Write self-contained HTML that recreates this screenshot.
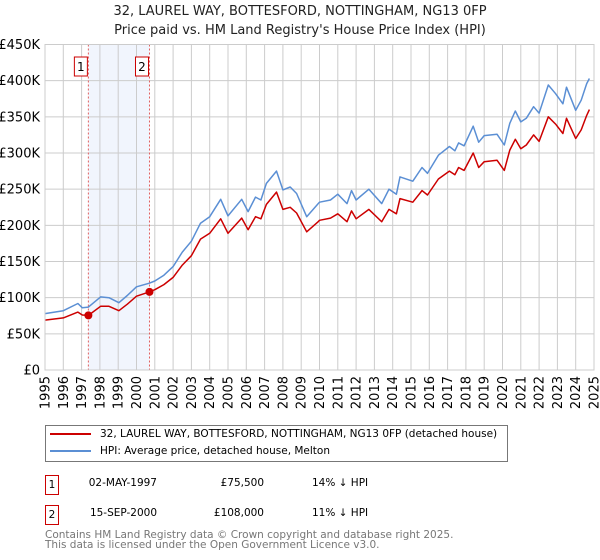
<!DOCTYPE html>
<html><head><meta charset="utf-8"><style>
body{margin:0;background:#fff;font-family:"DejaVu Sans","Liberation Sans",sans-serif;}
svg text{font-family:"DejaVu Sans","Liberation Sans",sans-serif;}
.n{white-space:nowrap}
</style></head><body>
<svg id="chart" width="600" height="560" xmlns="http://www.w3.org/2000/svg" style="position:absolute;left:0;top:0">
<g id="g"></g>
</svg>
<script>
const hpiYears=[1995.0,1996.0,1996.8,1997.04,1997.37,1998.04,1998.5,1999.04,1999.5,2000.0,2000.7,2001.0,2001.5,2002.0,2002.5,2003.0,2003.5,2004.0,2004.6,2005.0,2005.75,2006.1,2006.5,2006.8,2007.1,2007.65,2008.0,2008.4,2008.75,2009.3,2009.93,2010.0,2010.6,2011.0,2011.5,2011.75,2012.0,2012.7,2013.4,2013.8,2014.2,2014.4,2015.1,2015.6,2015.9,2016.5,2017.1,2017.4,2017.6,2017.9,2018.4,2018.7,2019.0,2019.7,2020.1,2020.4,2020.7,2021.0,2021.3,2021.7,2022.0,2022.5,2022.9,2023.3,2023.5,2024.0,2024.3,2024.6,2024.75];
const hpiValues=[78000,82000,92000,86000,87000,101000,100000,93000,103000,115000,120000,123000,131000,143000,163000,178000,203000,212000,236000,213000,236000,219000,239000,235000,258000,275000,249000,253000,244000,212000,230000,232000,235000,243000,230000,248000,235000,250000,230000,250000,243000,267000,261000,280000,272000,297000,309000,303000,314000,310000,337000,315000,324000,326000,311000,341000,358000,343000,348000,364000,355000,394000,382000,368000,391000,359000,373000,396000,403000];
const priceValues=[69000,72000,80000,76000,75500,88000,88000,82000,91000,102000,108000,111000,118000,128000,145000,158000,181000,189000,209000,189000,210000,194000,212000,209000,229000,246000,222000,225000,217000,191000,205000,207000,210000,216000,205000,220000,209000,222000,205000,222000,216000,237000,232000,248000,242000,264000,275000,270000,280000,276000,300000,280000,288000,290000,276000,304000,319000,306000,311000,325000,316000,350000,340000,327000,348000,320000,332000,352000,360000];
const saleYears=[1997.37,2000.71];
const salePrices=[75500,108000];
const saleLabels=["1","2"];
const yTicks=[0,50000,100000,150000,200000,250000,300000,350000,400000,450000];
const yTickLabels=["£0","£50K","£100K","£150K","£200K","£250K","£300K","£350K","£400K","£450K"];
const xTicks=[1995,1996,1997,1998,1999,2000,2001,2002,2003,2004,2005,2006,2007,2008,2009,2010,2011,2012,2013,2014,2015,2016,2017,2018,2019,2020,2021,2022,2023,2024,2025];

const X0=45,X1=594,Y0=370,Y1=44.5;
const xs=y=>X0+(y-1995)/30*(X1-X0);
const ys=v=>Y0-v/450000*(Y0-Y1);
const NS="http://www.w3.org/2000/svg";
const g=document.getElementById('g');
function mk(t,a,txt){const e=document.createElementNS(NS,t);for(const k in a)e.setAttribute(k,a[k]);if(txt!==undefined)e.textContent=txt;g.appendChild(e);return e;}

let e=mk('rect',{x:xs(saleYears[0]),y:Y1,width:xs(saleYears[1])-xs(saleYears[0]),height:Y0-Y1,fill:'#eef3fc',opacity:0.8});

yTicks.forEach((v,i)=>{
 let l=mk('line',{x1:X0,x2:X1,y1:ys(v),y2:ys(v),stroke:'#cccccc','stroke-width':1});
 
 let t=mk('text',{x:X0-5,y:ys(v)+4.5,'text-anchor':'end','font-size':13,fill:'#000'},yTickLabels[i]);
 
});
xTicks.forEach(yr=>{
 let l=mk('line',{x1:xs(yr),x2:xs(yr),y1:Y1,y2:Y0,stroke:'#cccccc','stroke-width':1});
 
 let t=mk('text',{x:0,y:0,'font-size':13,fill:'#000','text-anchor':'end',transform:`translate(${xs(yr)+4.5},${Y0+6}) rotate(-90)`},String(yr));
 
});
saleYears.forEach((yr,i)=>{
 let l=mk('line',{x1:xs(yr),x2:xs(yr),y1:Y1,y2:Y0,stroke:'#e06060','stroke-width':1,'stroke-dasharray':'2,2'});
 
 let r=mk('rect',{x:xs(yr)-14,y:57,width:13,height:19,fill:'#fff',stroke:'#cc0000','stroke-width':1});
 
 let t=mk('text',{x:xs(yr)-7.5,y:71,'text-anchor':'middle','font-size':12,fill:'#000'},saleLabels[i]);
 
});
function pts(vals){return hpiYears.map((y,i)=>xs(y).toFixed(1)+','+ys(vals[i]).toFixed(1)).join(' ');}
let hp=mk('polyline',{points:pts(hpiValues),fill:'none',stroke:'#5b8fd4','stroke-width':1.5,'stroke-linejoin':'round'});

let pp=mk('polyline',{points:pts(priceValues),fill:'none',stroke:'#cc0000','stroke-width':1.5,'stroke-linejoin':'round'});

saleYears.forEach((yr,i)=>{
 let c=mk('circle',{cx:xs(yr),cy:ys(salePrices[i]),r:4,fill:'#cc0000'});
 
});
let b=mk('rect',{x:X0,y:Y1,width:X1-X0,height:Y0-Y1,fill:'none',stroke:'#cccccc','stroke-width':1});

</script>
<div style="position:absolute;left:0;top:2px;width:600px;text-align:center;font-size:13px;line-height:19px;color:#222">32, LAUREL WAY, BOTTESFORD, NOTTINGHAM, NG13 0FP<br>Price paid vs. HM Land Registry's House Price Index (HPI)</div>
<div style="position:absolute;left:45px;top:425px;width:463px;height:37px;border:1px solid #777;box-sizing:border-box;font-size:10.5px;color:#000">
 <div class="n" style="position:absolute;left:4px;top:2px"><span style="display:inline-block;width:41px;height:2px;background:#cc0000;vertical-align:middle;margin-right:9px"></span>32, LAUREL WAY, BOTTESFORD, NOTTINGHAM, NG13 0FP (detached house)</div>
 <div class="n" style="position:absolute;left:4px;top:19px"><span style="display:inline-block;width:41px;height:2px;background:#5b8fd4;vertical-align:middle;margin-right:9px"></span>HPI: Average price, detached house, Melton</div>
</div>
<div style="position:absolute;left:0;top:0;font-size:10.5px;color:#000">
 <div style="position:absolute;left:45px;top:475px;width:14px;height:20px;border:1px solid #cc0000;box-sizing:border-box;text-align:center;line-height:18px">1</div>
 <div class="n" style="position:absolute;left:67px;top:477px;width:90px;text-align:right">02-MAY-1997</div>
 <div class="n" style="position:absolute;left:184px;top:477px;width:80px;text-align:right">£75,500</div>
 <div class="n" style="position:absolute;left:312px;top:477px">14% ↓ HPI</div>
 <div style="position:absolute;left:45px;top:505px;width:14px;height:20px;border:1px solid #cc0000;box-sizing:border-box;text-align:center;line-height:18px">2</div>
 <div class="n" style="position:absolute;left:67px;top:507px;width:90px;text-align:right">15-SEP-2000</div>
 <div class="n" style="position:absolute;left:184px;top:507px;width:80px;text-align:right">£108,000</div>
 <div class="n" style="position:absolute;left:312px;top:507px">11% ↓ HPI</div>
</div>
<div class="n" style="position:absolute;left:45px;top:530px;font-size:10.5px;line-height:10px;color:#777">Contains HM Land Registry data © Crown copyright and database right 2025.<br>This data is licensed under the Open Government Licence v3.0.</div>
</body></html>
